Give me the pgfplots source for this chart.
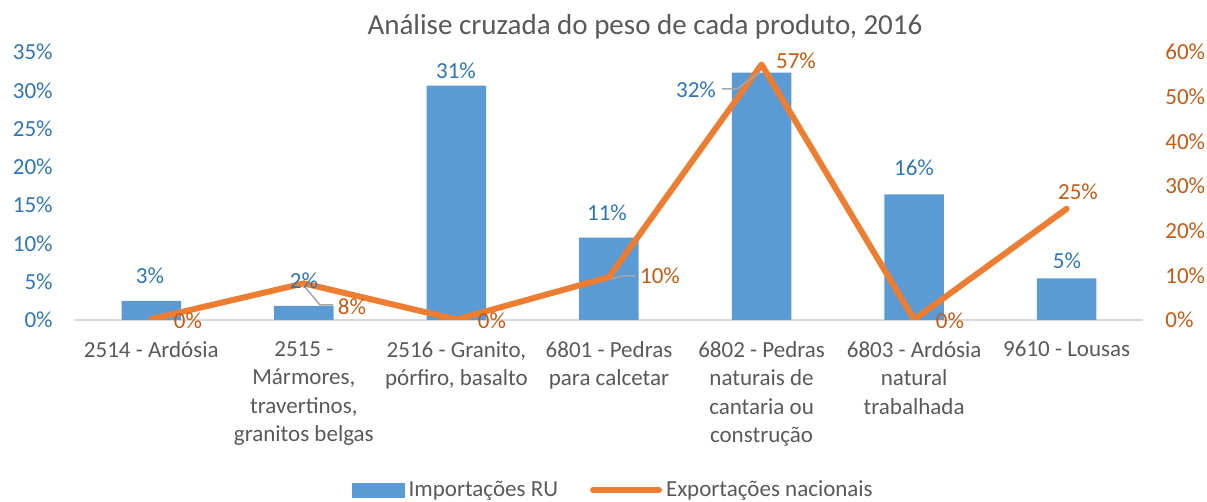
\documentclass[border=0pt]{standalone}
\usepackage{pgfplots}
\pgfplotsset{compat=1.18}
\usepackage{fontspec}
\setmainfont{Carlito}
\definecolor{barblue}{HTML}{5B9BD5}
\definecolor{lineor}{HTML}{ED7D31}
\definecolor{tickblue}{HTML}{2E75B6}
\definecolor{tickor}{HTML}{C55A11}
\definecolor{txtgrey}{HTML}{595959}
\definecolor{axgrey}{HTML}{D9D9D9}
\definecolor{leadgrey}{HTML}{A6A6A6}
\begin{document}
\begin{tikzpicture}
\pgfplotsset{every axis/.append style={
  scale only axis, width=534pt, height=134pt,
  at={(0pt,0pt)}, anchor=south west,
  xmin=-0.5, xmax=6.5,
  font=\fontsize{11.5}{14.2}\selectfont,
  /pgf/number format/assume math mode=true,
  major tick length=0pt, minor tick num=0,
}}
\begin{axis}[
  ymin=0, ymax=35, ytick={0,5,...,35},
  yticklabel={\pgfmathprintnumber{\tick}\%},
  yticklabel style={text=tickblue, anchor=east, inner sep=0pt, xshift=-11pt},
  axis x line*=bottom, axis y line*=left,
  x axis line style={draw=axgrey, line width=0.75pt},
  y axis line style={draw=none},
  xtick={0,...,6},
  xticklabels={{2514 - Ardósia},{2515 -\\Mármores,\\travertinos,\\granitos belgas},{2516 - Granito,\\pórfiro, basalto},{6801 - Pedras\\para calcetar},{6802 - Pedras\\naturais de\\cantaria ou\\construção},{6803 - Ardósia\\natural\\trabalhada},{9610 - Lousas}},
  xticklabel style={align=center, text=txtgrey, anchor=north, inner sep=0pt, yshift=-10.5pt},
]
\addplot[ybar, bar width=0.39, fill=barblue, draw=none] coordinates {
  (0,2.5) (1,1.85) (2,30.6) (3,10.75) (4,32.3) (5,16.4) (6,5.45)
};
\end{axis}
\begin{axis}[
  ymin=0, ymax=60, ytick={0,10,...,60},
  yticklabel={\pgfmathprintnumber{\tick}\%},
  yticklabel style={text=tickor, anchor=west, inner sep=0pt, xshift=11pt},
  axis y line*=right, axis x line=none,
  y axis line style={draw=none},
  legend columns=2,
  legend style={at={(0.505,-0.634)}, anchor=center, draw=none, fill=none,
    text=txtgrey, font=\fontsize{11.5}{14}\selectfont,
    /tikz/every even column/.append style={column sep=14pt}},
]
\addlegendimage{legend image code/.code={\fill[barblue] (0pt,-3.5pt) rectangle (26pt,3.5pt);}}
\addlegendentry{Importações RU}
\addplot[lineor, line width=3pt, line join=round, line cap=round,
  legend image code/.code={\draw[lineor, line width=3pt] (0pt,0pt) -- (33pt,0pt);}] coordinates {
  (0,0.2) (1,8.2) (2,0.1) (3,9.6) (4,57.2) (5,0.1) (6,24.9)
};
\addlegendentry{Exportações nacionais}
\end{axis}
% leader lines
\draw[leadgrey, line width=0.75pt] (115pt,16.5pt) -- (122.5pt,7.5pt) -- (129pt,7.5pt);
\draw[leadgrey, line width=0.75pt] (268.5pt,20.5pt) -- (273.5pt,22pt) -- (280pt,22pt);
\draw[leadgrey, line width=0.75pt] (323.5pt,115.5pt) -- (331pt,115.5pt) -- (342.5pt,124pt);
% data labels
\begin{scope}[every node/.style={font=\fontsize{11.5}{14}\selectfont, inner sep=0pt}]
\node[text=tickblue] at (37.5pt,22pt) {3\%};
\node[text=tickblue] at (114.5pt,19.5pt) {2\%};
\node[text=tickblue] at (190.5pt,124.5pt) {31\%};
\node[text=tickblue] at (266pt,53.5pt) {11\%};
\node[text=tickblue] at (310.5pt,115pt) {32\%};
\node[text=tickblue] at (419.5pt,76pt) {16\%};
\node[text=tickblue] at (496pt,29.5pt) {5\%};
\node[text=tickor] at (56.5pt,-0.5pt) {0\%};
\node[text=tickor] at (138.5pt,6.5pt) {8\%};
\node[text=tickor] at (208.5pt,-0.5pt) {0\%};
\node[text=tickor] at (292.5pt,22pt) {10\%};
\node[text=tickor] at (360.5pt,129.5pt) {57\%};
\node[text=tickor] at (437.5pt,-0.5pt) {0\%};
\node[text=tickor] at (501.5pt,64pt) {25\%};
\end{scope}
\node[text=txtgrey, font=\fontsize{14.5}{17}\selectfont] at (285pt,146.5pt) {Análise cruzada do peso de cada produto, 2016};
\pgfresetboundingbox
\path (-37.5pt,-91pt) rectangle (566pt,160pt);
\end{tikzpicture}
\end{document}
